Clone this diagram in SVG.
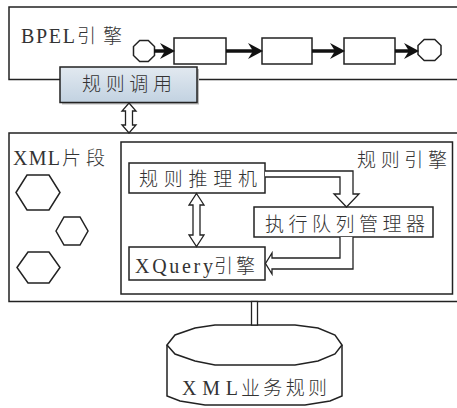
<svg xmlns="http://www.w3.org/2000/svg" width="457" height="408" viewBox="0 0 457 408">
<defs>
<linearGradient id="blue" x1="0" y1="0" x2="0" y2="1">
<stop offset="0" stop-color="#e2e9f0"/>
<stop offset="1" stop-color="#c2d2e1"/>
</linearGradient>
</defs>
<style>
.box{fill:#fff;stroke:#222;stroke-width:1.5}
.frame{fill:none;stroke:#222;stroke-width:1.5}
.hollow{fill:#fff;stroke:#222;stroke-width:1.3;stroke-linejoin:miter}
.flow{stroke:#111;stroke-width:3.5;fill:none}
.head{fill:#111}
.t{font-family:"Liberation Serif","Noto Sans CJK SC",serif;fill:#333;font-size:20px}
.c{font-family:"Noto Sans CJK SC",sans-serif;font-weight:300;font-size:19px;fill:#333}
</style>
<rect width="457" height="408" fill="#fff"/>

<g id="bpel-engine">
<rect class="frame" x="9" y="7" width="460" height="72.5"/>
<text class="t" x="21" y="43" textLength="54" lengthAdjust="spacing">BPEL</text>
<text class="c" x="77" y="43" textLength="45" lengthAdjust="spacing">引擎</text>
</g>
<g id="start"><polygon class="box" points="154.5,55.5 148.3,61.6 139.7,61.6 133.5,55.5 133.5,46.5 139.7,40.4 148.3,40.4 154.5,46.5"/></g>
<g id="act1"><rect class="box" x="174" y="38" width="52" height="26"/></g>
<g id="act2"><rect class="box" x="262" y="38" width="50" height="26"/></g>
<g id="act3"><rect class="box" x="344" y="38" width="51" height="26"/></g>
<g id="end"><polygon class="box" points="441,54.5 434.8,60.6 424.2,60.6 418,54.5 418,45.5 424.2,39.4 434.8,39.4 441,45.5"/></g>

<g id="rule-call">
<rect x="62" y="69" width="137" height="35.5" fill="#bbb"/>
<rect x="60" y="67" width="137" height="35.5" fill="url(#blue)" stroke="#222" stroke-width="1.5"/>
<text class="c" x="82" y="91" textLength="90" lengthAdjust="spacing">规则调用</text>
</g>

<g id="xml-fragments">
<rect class="frame" x="9" y="133" width="460" height="168.5"/>
<text class="t" x="13" y="165" textLength="47" lengthAdjust="spacing">XML</text>
<text class="c" x="62" y="165" textLength="43" lengthAdjust="spacing">片段</text>
<polygon class="box" points="16,192.5 27,175 49,175 60,192.5 49,210 27,210"/>
<polygon class="box" points="56,231 64,217 80,217 88,231 80,245 64,245"/>
<polygon class="box" points="17,267.5 28,252 49,252 60,267.5 49,283 28,283"/>
</g>

<g id="rule-engine">
<rect class="box" x="121" y="142" width="331.5" height="152"/>
<text class="c" x="357" y="167" textLength="90" lengthAdjust="spacing">规则引擎</text>
</g>
<g id="inference">
<rect class="box" x="129" y="163" width="136" height="30"/>
<text class="c" x="139" y="186" textLength="118" lengthAdjust="spacing">规则推理机</text>
</g>
<g id="queue">
<rect class="box" x="254" y="207" width="179" height="30"/>
<text class="c" x="265" y="231" textLength="160" lengthAdjust="spacing">执行队列管理器</text>
</g>
<g id="xquery">
<rect class="box" x="129" y="247" width="136" height="33"/>
<text class="t" x="135" y="273" textLength="78" lengthAdjust="spacing">XQuery</text>
<text class="c" x="214" y="273" textLength="41" lengthAdjust="spacing">引擎</text>
</g>

<g id="xml-rules">
<path class="box" d="M167,345 L167,396 L180,401 L205,405 L305,405 L330,401 L342,396 L342,345"/>
<path class="box" d="M167,345 L175,335 L195,328 L215,325 L295,325 L318,328 L335,335 L342,345 L335,354 L318,361 L295,365 L215,365 L195,361 L175,354 Z"/>
<text class="t" x="182" y="395" textLength="56" lengthAdjust="spacing">XML</text>
<text class="c" x="241" y="395" textLength="86" lengthAdjust="spacing">业务规则</text>
</g>

<g id="connectors">
<line class="flow" x1="154" y1="51" x2="166" y2="51"/>
<polygon class="head" points="175,51 160,43 165,51 160,59"/>
<line class="flow" x1="226" y1="51" x2="254" y2="51"/>
<polygon class="head" points="263,51 248,43 253,51 248,59"/>
<line class="flow" x1="312" y1="51" x2="336" y2="51"/>
<polygon class="head" points="345,51 330,43 335,51 330,59"/>
<line class="flow" x1="395" y1="51" x2="410" y2="51"/>
<polygon class="head" points="419,51 404,43 409,51 404,59"/>
<path class="hollow" d="M129,103 L136,111 L132.5,111 L132.5,125 L136,125 L129,133 L122,125 L125.5,125 L125.5,111 L122,111 Z"/>
<path class="hollow" d="M196.5,193.5 L204,205 L200,205 L200,235 L204,235 L196.5,246.5 L189,235 L193,235 L193,205 L189,205 Z"/>
<path class="hollow" d="M265,171 L353,171 L353,194 L359,194 L346.5,207 L334,194 L340,194 L340,177 L265,177"/>
<path class="hollow" d="M340,237 L340,258 L272,258 L272,253 L265.5,263.5 L272,274 L272,269 L353,269 L353,237"/>
<rect class="hollow" x="251.5" y="301.5" width="6" height="23.5"/>
</g>
</svg>
